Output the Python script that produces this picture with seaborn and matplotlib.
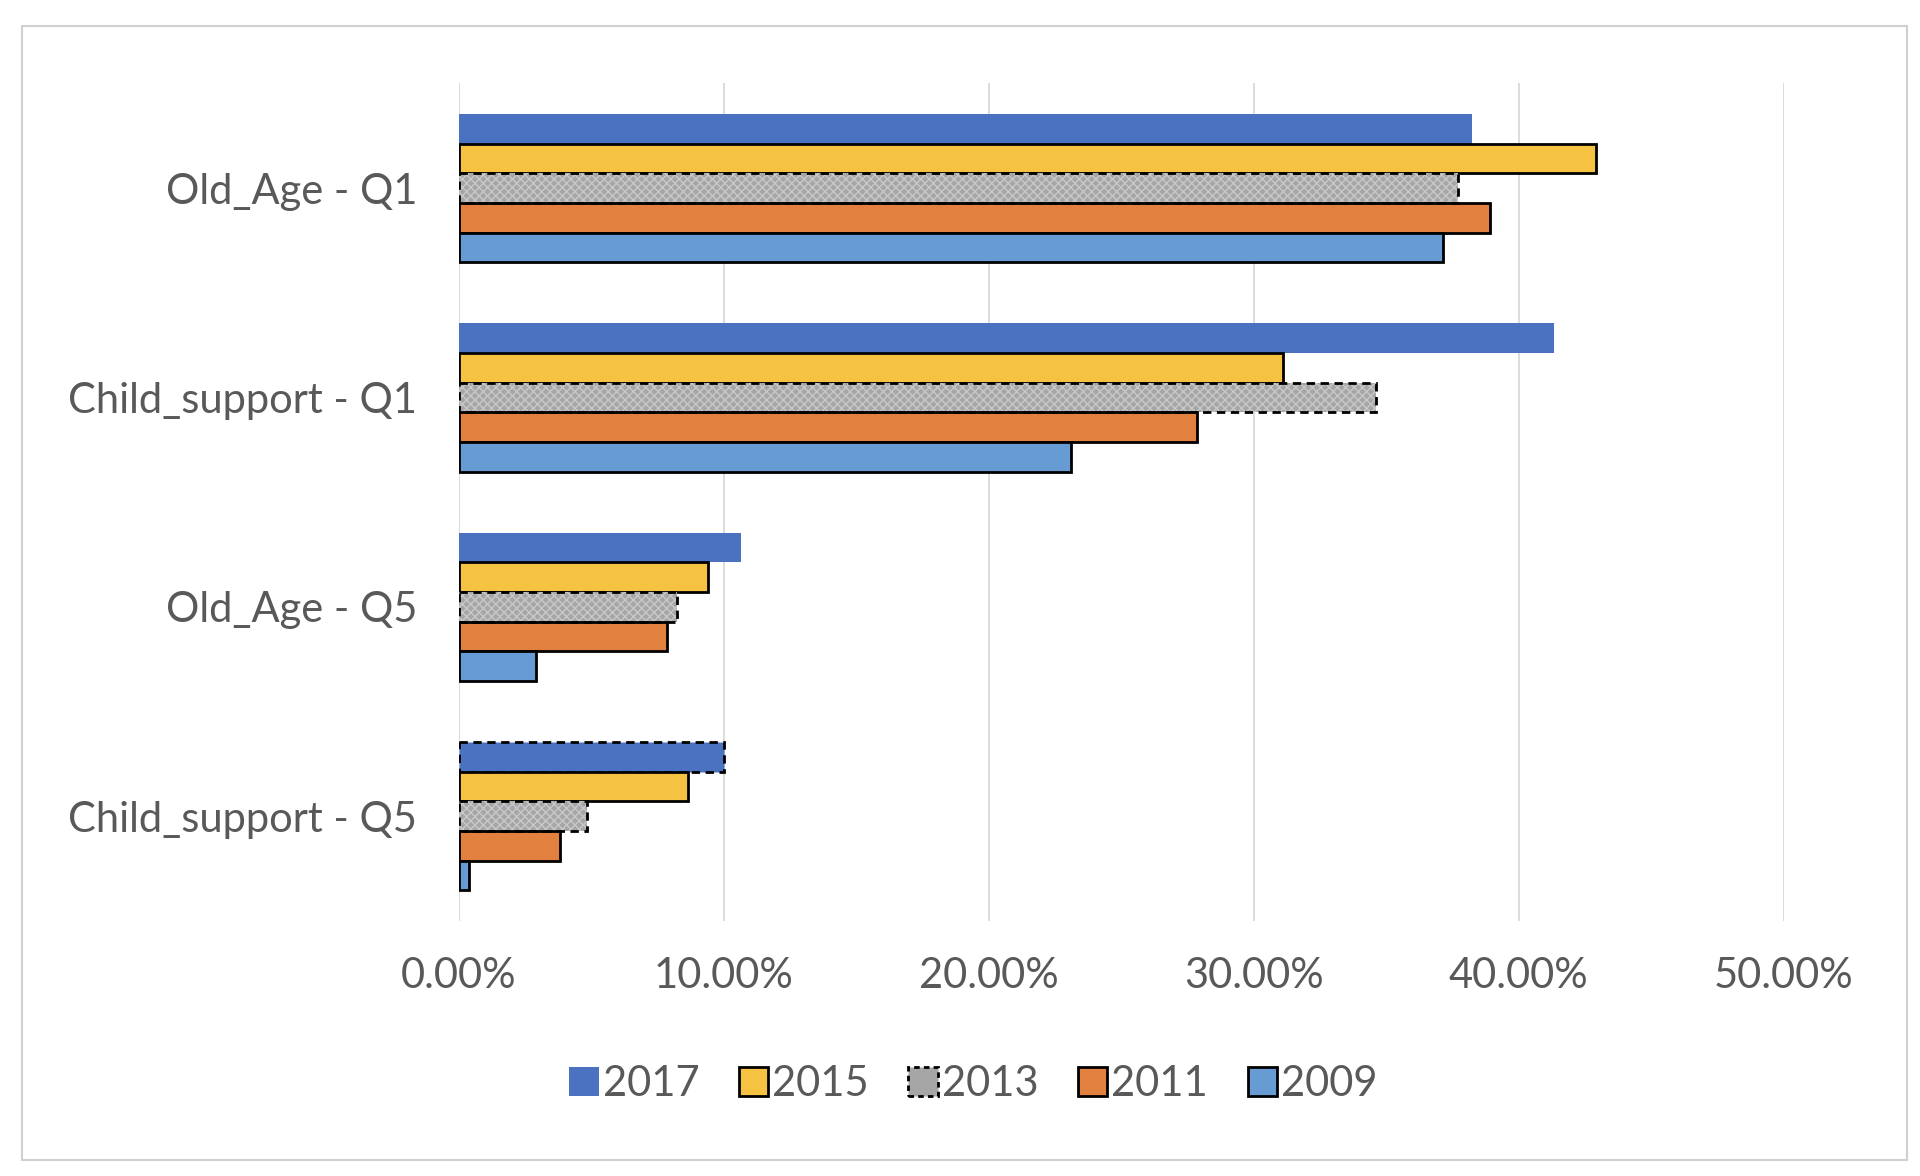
import matplotlib
matplotlib.use("Agg")
import matplotlib.pyplot as plt
import seaborn as sns
import pandas as pd
from matplotlib.patches import Rectangle
from matplotlib.ticker import FuncFormatter

categories = ['Old_Age - Q1', 'Child_support - Q1', 'Old_Age - Q5', 'Child_support - Q5']
years = ['2017', '2015', '2013', '2011', '2009']
v2017 = [0.3825, 0.4135, 0.1065, 0.1000]
v2015 = [0.4290, 0.3110, 0.0940, 0.0865]
v2013 = [0.3770, 0.3460, 0.0825, 0.0485]
v2011 = [0.3890, 0.2785, 0.0785, 0.0380]
v2009 = [0.3715, 0.2310, 0.0290, 0.0040]
xticks = [0.0, 0.1, 0.2, 0.3, 0.4, 0.5]

colors = ['#4A72C0', '#F5C242', '#A6A6A6', '#E1803F', '#669BD4']

rows = []
for yr, vals in zip(years, [v2017, v2015, v2013, v2011, v2009]):
    for c, v in zip(categories, vals):
        rows.append({'category': c, 'year': yr, 'value': v})
df = pd.DataFrame(rows)

sns.set_theme(style='white')
plt.rcParams['font.family'] = ['Lato', 'DejaVu Sans']
TXT = '#595959'
FS = 30

fig = plt.figure(figsize=(19.2, 11.76), dpi=100)
ax = fig.add_axes([0.239, 0.217, 0.690, 0.712])

sns.barplot(data=df, y='category', x='value', hue='year', hue_order=years,
            order=categories, orient='h', palette=colors, saturation=1,
            width=0.71, gap=0, legend=False, ax=ax, zorder=3)

ax.set_xlim(0, 0.5)
ax.set_ylim(3.5, -0.5)
ax.set_xticks(xticks)
ax.xaxis.set_major_formatter(FuncFormatter(lambda v, p: f'{v*100:.2f}%'))
ax.grid(axis='x', color='#D9D9D9', linewidth=1.3, zorder=0)
ax.grid(axis='y', visible=False)
for s in ax.spines.values():
    s.set_visible(False)
ax.tick_params(axis='both', length=0, labelsize=FS, labelcolor=TXT)
ax.tick_params(axis='x', pad=26)
ax.tick_params(axis='y', pad=30)
ax.set_xlabel('')
ax.set_ylabel('')

lw = 2.0
conts = ax.containers
# 2017: no edge, except last category which has dashed edge
for i, p in enumerate(conts[0].patches):
    p.set_edgecolor('none')
    if categories[i] == 'Child_support - Q5':
        p.set_edgecolor('black'); p.set_linestyle((0, (3, 2))); p.set_linewidth(lw)
# 2015, 2011, 2009: solid black edge
for k in (1, 3, 4):
    for p in conts[k].patches:
        p.set_edgecolor('black'); p.set_linewidth(lw)
# 2013: grey textured with dashed outline
for p in conts[2].patches:
    p.set_edgecolor('#C8C8C8'); p.set_hatch('xxxx'); p.set_linewidth(0)
    ol = Rectangle(p.get_xy(), p.get_width(), p.get_height(), fill=False,
                   edgecolor='black', linewidth=lw, linestyle=(0, (3, 2)), zorder=4)
    ax.add_patch(ol)

# legend
handles = []
for k, yr in enumerate(years):
    if k == 0:
        h = Rectangle((0, 0), 1, 1, facecolor=colors[0], edgecolor='none')
    elif k == 2:
        h = Rectangle((0, 0), 1, 1, facecolor=colors[2], edgecolor='black',
                      linewidth=lw, linestyle=(0, (2, 1.5)))
    else:
        h = Rectangle((0, 0), 1, 1, facecolor=colors[k], edgecolor='black', linewidth=lw)
    handles.append(h)
leg = fig.legend(handles, years, loc='center', bbox_to_anchor=(0.507, 0.078),
                 ncol=5, frameon=False, fontsize=FS, handlelength=0.7,
                 handleheight=0.7, handletextpad=0.1, columnspacing=0.95)
for t in leg.get_texts():
    t.set_color(TXT)

# outer chart border
fig.patches.append(Rectangle((0.0115, 0.0135), 0.9815, 0.964, transform=fig.transFigure,
                             fill=False, edgecolor='#D0D0D0', linewidth=1.5))

fig.savefig('out.png', dpi=100, facecolor='white')
